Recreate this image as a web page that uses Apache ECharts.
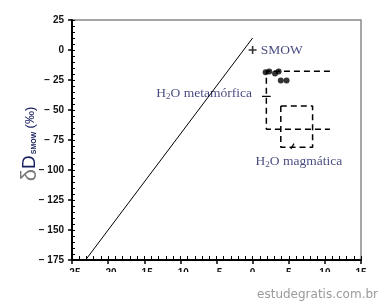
<!DOCTYPE html>
<html><head><meta charset="utf-8">
<script src="https://cdn.jsdelivr.net/npm/echarts@6/dist/echarts.min.js"></script>
<style>html,body{margin:0;padding:0;background:#fff}#c{width:381px;height:303px}</style>
</head><body><div id="c"></div>
<script>
var xTicks = [-25, 15, 5];
var yTicks = [-175, 25, 25];
var meteoricLine = [[-23.125, -175], [0, 10]];
var smow = [[0, 0]];
var samples = [[1.8, -18.5], [2.3, -18], [3.1, -19.5], [3.6, -18], [3.9, -25.5], [4.7, -25.5]];
var metamorphicField = [[10.7, -17.8], [1.9, -17.8], [1.9, -66], [10.7, -66]];
var magmaticField = [[3.9, -46.7], [8.3, -46.7], [8.3, -81], [3.9, -81], [3.9, -46.7]];
var metaLeader = [[1.3, -38.7], [2.5, -38.7]];
var magLeader = [[5.3, -82.5], [5.72, -78]];
var metaLabelPos = [[-0.1, -36]];
var magLabelPos = [[6.4, -93]];

var chart = echarts.init(document.getElementById('c'));
var navy = '#161c5c';
var serif = '"Liberation Serif","Times New Roman",serif';
function dashed(data) {
  return {type: 'line', data: data, symbol: 'none', silent: true,
    lineStyle: {color: '#000', width: 1.5, type: [6, 4]}, z: 3};
}
function solid(data, w) {
  return {type: 'line', data: data, symbol: 'none', silent: true,
    lineStyle: {color: '#000', width: w || 1}, z: 3};
}
var h2oRich = {
  n: {fontFamily: serif, fontSize: 13.5, color: navy},
  s: {fontFamily: serif, fontSize: 9, color: navy, padding: [7, 0, 0, 0]}
};
chart.setOption({
  animation: false,
  backgroundColor: '#fff',
  grid: {left: 72, right: 20, top: 20, bottom: 43, show: true, borderColor: '#888', borderWidth: 1.5},
  xAxis: [{
    type: 'value', min: xTicks[0], max: xTicks[1], interval: xTicks[2],
    axisLine: {show: true, onZero: false, lineStyle: {color: '#000', width: 2}},
    axisTick: {show: true, inside: false, length: 4, lineStyle: {color: '#000', width: 1.5}},
    axisLabel: {margin: 8, fontFamily: '"Liberation Sans",Arial,sans-serif', fontWeight: 'bold', fontSize: 10, color: '#111',
      formatter: function (v) { return v < 0 ? '\u2212' + (-v) : '' + v; }},
    splitLine: {show: false}
  }, {
    type: 'value', min: xTicks[0], max: xTicks[1], interval: 1, position: 'bottom',
    axisLine: {show: false, onZero: false},
    axisTick: {show: true, inside: true, length: 4, lineStyle: {color: '#000', width: 1}},
    axisLabel: {show: false}, splitLine: {show: false}
  }],
  yAxis: [{
    type: 'value', min: yTicks[0], max: yTicks[1], interval: yTicks[2],
    axisLine: {show: true, onZero: false, lineStyle: {color: '#000', width: 2}},
    axisTick: {show: true, inside: false, length: 4, lineStyle: {color: '#000', width: 1.5}},
    axisLabel: {margin: 8, fontFamily: '"Liberation Sans",Arial,sans-serif', fontWeight: 'bold', fontSize: 10, color: '#111',
      formatter: function (v) { return v < 0 ? '\u2212 ' + (-v) : '' + v; }},
    splitLine: {show: false}
  }, {
    type: 'value', min: yTicks[0], max: yTicks[1], interval: 5, position: 'left',
    axisLine: {show: false, onZero: false},
    axisTick: {show: true, inside: true, length: 3, lineStyle: {color: '#000', width: 1}},
    axisLabel: {show: false}, splitLine: {show: false}
  }],
  series: [
    solid(meteoricLine, 1),
    dashed(metamorphicField),
    dashed(magmaticField),
    solid(metaLeader, 1.2),
    solid(magLeader, 1.2),
    {type: 'scatter', data: samples, symbol: 'circle', symbolSize: 6, itemStyle: {color: '#000'}, silent: true, z: 4},
    {type: 'scatter', data: smow, symbol: 'path://M4,0H6V4H10V6H6V10H4V6H0V4H4Z', symbolSize: 8,
      itemStyle: {color: '#000'}, silent: true, z: 4,
      label: {show: true, position: 'right', distance: 4, formatter: 'SMOW',
        fontFamily: serif, fontSize: 13.5, color: navy}},
    {type: 'scatter', data: metaLabelPos, symbolSize: 0, silent: true, z: 2,
      label: {show: true, position: 'left', distance: 0, formatter: '{n|H}{s|2}{n|O metamórfica}', rich: h2oRich}},
    {type: 'scatter', data: magLabelPos, symbolSize: 0, silent: true, z: 2,
      label: {show: true, position: 'inside', formatter: '{n|H}{s|2}{n|O magmática}', rich: h2oRich}}
  ],
  graphic: [
    {type: 'rect', shape: {x: 0, y: 272, width: 381, height: 31}, style: {fill: '#fff'}, z: 100},
    {type: 'text', x: 378, y: 295, z: 101, style: {text: 'estudegratis.com.br', align: 'right', verticalAlign: 'middle',
      fill: '#9a9a9a', font: '12px "DejaVu Sans",sans-serif'}},
    {type: 'text', x: 41, y: 144, rotation: Math.PI / 2, z: 101, style: {
      text: '{d|\u03b4}{D|D}{s|SMOW} {p|(\u2030)}', align: 'center', verticalAlign: 'bottom',
      rich: {
        d: {fontFamily: '"Liberation Sans",Arial,sans-serif', fontSize: 22, fill: '#777'},
        D: {fontFamily: '"Liberation Sans",Arial,sans-serif', fontSize: 19, fill: navy},
        s: {fontFamily: '"Liberation Sans",Arial,sans-serif', fontSize: 7, fontWeight: 'bold', fill: navy, padding: [8, 0, 0, 1]},
        p: {fontFamily: '"Liberation Sans",Arial,sans-serif', fontSize: 13, fill: navy}
      }}}
  ]
});
</script></body></html>
